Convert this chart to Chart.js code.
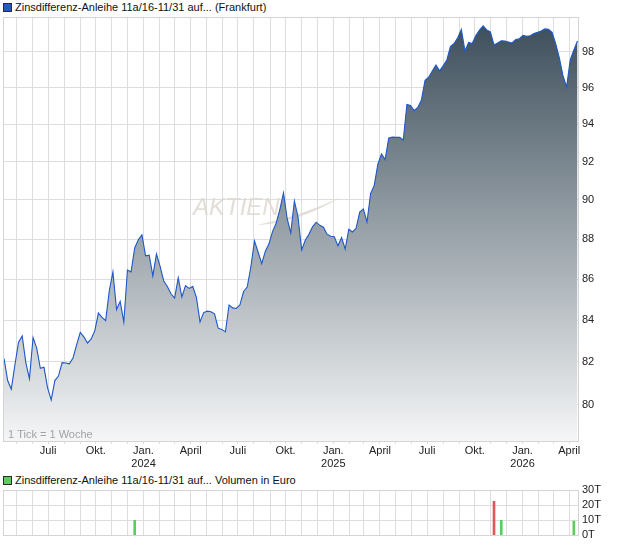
<!DOCTYPE html>
<html lang="de">
<head>
<meta charset="utf-8">
<title>Zinsdifferenz-Anleihe 11a/16-11/31</title>
<script src="https://cdn.jsdelivr.net/npm/chart.js@4.4.1/dist/chart.umd.min.js"></script>
<style>
  html, body { margin: 0; padding: 0; background: #fff; }
  body { width: 620px; height: 546px; position: relative; overflow: hidden; font-family: "Liberation Sans", Arial, sans-serif; }
  .titel { position: absolute; left: 3px; font-size: 11px; line-height: 13px; color: #111; white-space: nowrap; }
  .titel i { display: inline-block; width: 7px; height: 7px; border: 1px solid #2b2b2b; margin-right: 3px; vertical-align: -1px; }
  #kursBox { position: absolute; left: 0; top: 0; width: 620px; height: 470px; }
  #volBox { position: absolute; left: 0; top: 470px; width: 620px; height: 76px; }
</style>
</head>
<body>
<div class="titel" style="top:1px"><i style="background:#2458c6"></i>Zinsdifferenz-Anleihe 11a/16-11/31 auf... (Frankfurt)</div>
<div class="titel" style="top:474px"><i style="background:#5ccc5c"></i>Zinsdifferenz-Anleihe 11a/16-11/31 auf... Volumen in Euro</div>
<div id="kursBox"><canvas id="kursChart"></canvas></div>
<div id="volBox"><canvas id="volChart"></canvas></div>
<script>
// Wochenkurse (1 Tick = 1 Woche), erster Freitag 07.04.2023
const startDatum = Date.UTC(2023, 3, 7);
const kurse = [
  82.16, 81.13, 80.73, 81.87, 82.94, 83.24, 81.97, 81.22, 83.16, 82.66,
  81.70, 81.75, 80.79, 80.23, 81.13, 81.34, 81.97, 81.95, 81.91, 82.19,
  82.81, 83.41, 83.19, 82.90, 83.09, 83.48, 84.34, 84.13, 83.97, 85.42,
  86.36, 84.51, 84.91, 83.91, 86.45, 86.36, 87.55, 87.96, 88.21, 87.16,
  87.19, 86.16, 87.25, 86.63, 85.91, 85.64, 85.28, 85.07, 86.06, 85.12,
  85.68, 85.54, 85.64, 85.10, 83.91, 84.36, 84.43, 84.40, 84.30, 83.61,
  83.55, 83.43, 84.73, 84.59, 84.56, 84.74, 85.39, 85.61, 86.60, 87.91,
  87.35, 86.77, 87.39, 87.76, 88.39, 88.82, 89.52, 90.37, 89.05, 88.31,
  89.95, 89.13, 87.45, 87.94, 88.24, 88.62, 88.86, 88.70, 88.60, 88.25,
  88.14, 88.12, 87.66, 88.08, 87.50, 88.50, 88.36, 88.55, 89.38, 89.54,
  88.87, 90.33, 90.76, 91.88, 92.41, 92.12, 93.27, 93.31, 93.30, 93.30,
  93.16, 95.08, 95.02, 94.74, 94.92, 95.33, 96.41, 96.58, 96.93, 97.26,
  96.93, 97.21, 97.54, 98.29, 98.47, 98.79, 99.27, 98.05, 98.53, 98.47,
  98.92, 99.23, 99.47, 99.24, 99.13, 98.39, 98.50, 98.62, 98.61, 98.55,
  98.50, 98.70, 98.74, 98.93, 98.88, 98.91, 99.04, 99.10, 99.18, 99.30,
  99.28, 99.10, 98.46, 97.66, 96.67, 96.04, 97.54, 98.10, 98.62
];

// Umsaetze in Euro
const volumenDaten = ['2023-12-15', '2025-11-07', '2025-11-21', '2026-04-10'];
const volumenWerte = [10000, 22500, 10000, 9500];

// Achsen
const kursTicks = [80, 82, 84, 86, 88, 90, 92, 94, 96, 98];
const volumenTicks = [0, 10000, 20000, 30000];
const monatsNamen = ['Jan.', 'Feb.', 'März', 'April', 'Mai', 'Juni', 'Juli', 'Aug.', 'Sep.', 'Okt.', 'Nov.', 'Dez.'];
const beschriftet = [0, 3, 6, 9];
const xMin = Date.UTC(2023, 3, 5);
const xMax = Date.UTC(2026, 3, 18);

const TAG = 86400000;
const kursPunkte = kurse.map((v, i) => ({ x: startDatum + i * 7 * TAG, y: v }));

const volPunkte = volumenDaten.map((d, i) => ({ x: Date.parse(d), y: volumenWerte[i] }));
// Farbe nach Kursveraenderung zur Vorwoche
const volFarben = volPunkte.map(p => {
  const i = kursPunkte.findIndex(k => k.x === p.x);
  return (i > 0 && kurse[i] < kurse[i - 1]) ? '#dc5a5a' : '#5ccc5c';
});

const monatsAnfaenge = [];
{
  const d = new Date(xMin);
  let j = d.getUTCFullYear(), m = d.getUTCMonth() + 1;
  while (Date.UTC(j, m, 1) <= xMax) {
    monatsAnfaenge.push(Date.UTC(j, m, 1));
    m++;
    if (m > 11) { m = 0; j++; }
  }
}

const schrift = { family: '"Liberation Sans", Arial, sans-serif', size: 11 };
const gitterFarbe = '#dedede';

const monatsLabel = (wert) => {
  const d = new Date(wert);
  const m = d.getUTCMonth();
  if (!beschriftet.includes(m)) return '';
  return m === 0 ? [monatsNamen[m], String(d.getUTCFullYear())] : monatsNamen[m];
};

const rahmenPlugin = {
  id: 'rahmen',
  afterDraw(chart) {
    const a = chart.chartArea;
    const c = chart.ctx;
    c.save();
    c.strokeStyle = '#d4d4d4';
    c.lineWidth = 1;
    c.strokeRect(Math.round(a.left) + 0.5, Math.round(a.top) + 0.5, Math.round(a.right - a.left), Math.round(a.bottom - a.top));
    c.restore();
  }
};

const wasserzeichen = {
  id: 'wasserzeichen',
  beforeDatasetsDraw(chart) {
    const a = chart.chartArea;
    const c = chart.ctx;
    const x0 = a.left + 190, y0 = a.top + 198;
    c.save();
    c.fillStyle = 'rgba(222,216,208,0.85)';
    c.font = 'italic 24px "Liberation Sans", Arial, sans-serif';
    c.textBaseline = 'alphabetic';
    c.fillText('AKTIEN', x0, y0);
    c.beginPath();
    c.moveTo(x0 + 64, y0 + 10);
    c.quadraticCurveTo(x0 + 105, y0 + 8, x0 + 148, y0 - 18);
    c.quadraticCurveTo(x0 + 106, y0 + 2, x0 + 64, y0 + 10);
    c.fill();
    c.restore();
  },
  afterDatasetsDraw(chart) {
    const a = chart.chartArea;
    const c = chart.ctx;
    c.save();
    c.fillStyle = '#a3a3a3';
    c.font = '11px "Liberation Sans", Arial, sans-serif';
    c.textBaseline = 'middle';
    c.fillText('1 Tick = 1 Woche', a.left + 5, a.bottom - 6);
    c.restore();
  }
};

new Chart(document.getElementById('kursChart'), {
  type: 'line',
  data: {
    datasets: [{
      data: kursPunkte,
      borderColor: '#1d57c8',
      borderWidth: 1.1,
      pointRadius: 0,
      tension: 0,
      fill: 'start',
      backgroundColor: (ctx) => {
        const a = ctx.chart.chartArea;
        if (!a) return 'rgba(0,0,0,0)';
        const g = ctx.chart.ctx.createLinearGradient(0, a.top, 0, a.bottom);
        g.addColorStop(0, '#3a4c59');
        g.addColorStop(1, '#f5f6f7');
        return g;
      }
    }]
  },
  options: {
    animation: false,
    responsive: true,
    maintainAspectRatio: false,
    layout: { padding: { left: 3, top: 17, right: 0, bottom: 0 } },
    plugins: { legend: { display: false }, tooltip: { enabled: false } },
    scales: {
      x: {
        type: 'linear',
        min: xMin,
        max: xMax,
        afterBuildTicks: (s) => { s.ticks = monatsAnfaenge.map(v => ({ value: v })); },
        afterFit: (s) => { s.height = 29; },
        grid: { color: gitterFarbe, tickLength: 3 },
        border: { display: false },
        ticks: { autoSkip: false, maxRotation: 0, padding: 0, color: '#222', font: schrift, callback: monatsLabel }
      },
      y: {
        type: 'logarithmic',
        position: 'right',
        min: 78.36,
        max: 99.98,
        afterBuildTicks: (s) => { s.ticks = kursTicks.map(v => ({ value: v })); },
        afterFit: (s) => { s.width = 42; },
        grid: { color: gitterFarbe, drawTicks: false },
        border: { display: false },
        ticks: { padding: 4, color: '#222', font: schrift, callback: (v) => String(v) }
      }
    }
  },
  plugins: [wasserzeichen, rahmenPlugin]
});

new Chart(document.getElementById('volChart'), {
  type: 'bar',
  data: {
    datasets: [{
      data: volPunkte,
      backgroundColor: volFarben,
      barThickness: 2
    }]
  },
  options: {
    animation: false,
    responsive: true,
    maintainAspectRatio: false,
    layout: { padding: { left: 3, top: 20, right: 0, bottom: 0 } },
    plugins: { legend: { display: false }, tooltip: { enabled: false } },
    scales: {
      x: {
        type: 'linear',
        offset: false,
        min: xMin,
        max: xMax,
        afterBuildTicks: (s) => { s.ticks = monatsAnfaenge.map(v => ({ value: v })); },
        afterFit: (s) => { s.height = 8; },
        grid: { color: gitterFarbe, drawTicks: false, offset: false },
        border: { display: false },
        ticks: { display: false }
      },
      y: {
        min: 0,
        max: 30000,
        position: 'right',
        afterBuildTicks: (s) => { s.ticks = volumenTicks.map(v => ({ value: v })); },
        afterFit: (s) => { s.width = 42; },
        grid: { color: gitterFarbe, drawTicks: false },
        border: { display: false },
        ticks: { padding: 4, color: '#222', font: schrift, callback: (v) => (v / 1000) + 'T' }
      }
    }
  },
  plugins: [rahmenPlugin]
});
</script>
</body>
</html>
